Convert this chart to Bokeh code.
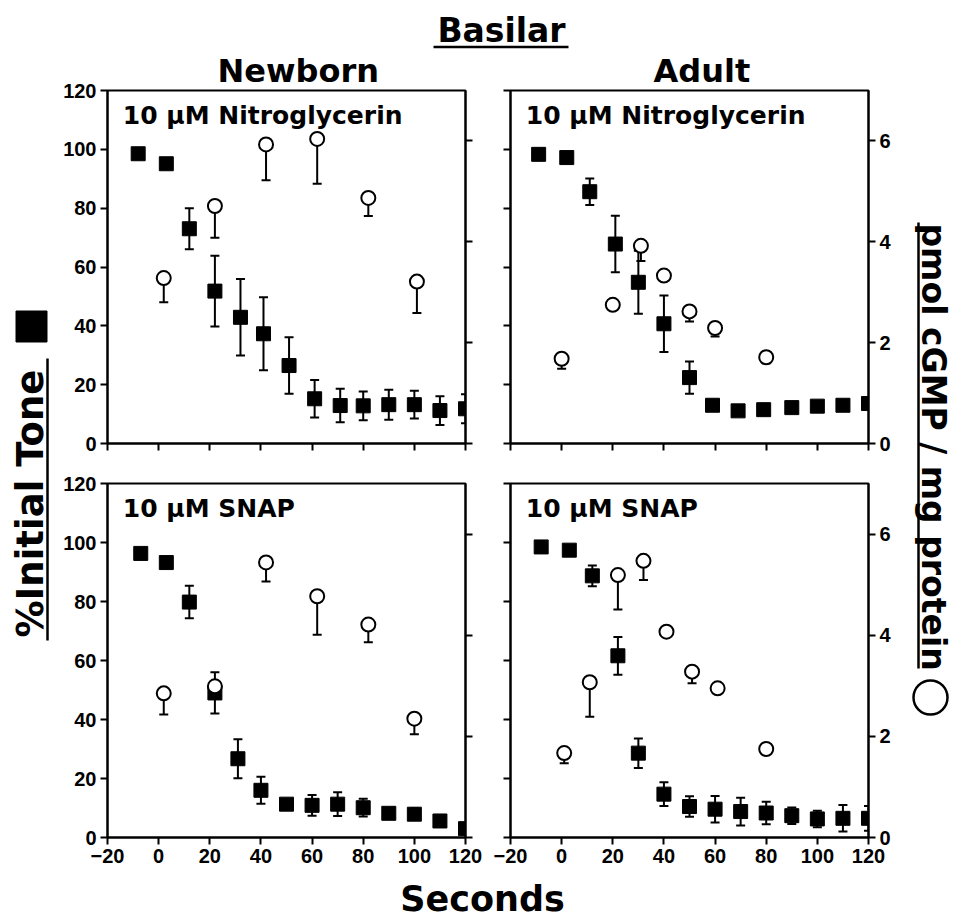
import math
from bokeh.plotting import figure
from bokeh.models import Range1d, LinearAxis, FixedTicker, ColumnDataSource, Whisker, TeeHead
from bokeh.layouts import row, column
from bokeh.embed import file_html
from bokeh.resources import INLINE
from bokeh.core.properties import value

# ---------------- data ----------------
x_ticks = [-20, 0, 20, 40, 60, 80, 100, 120]
tone_ticks = [0, 20, 40, 60, 80, 100, 120]
cgmp_ticks = [0, 2, 4, 6]

# Newborn, 10 uM Nitroglycerin
nb_ntg_t = [-8, 3, 12, 22, 32, 41, 51, 61, 71, 80, 90, 100, 110, 120]
nb_ntg_tone = [98.5, 95.1, 73.0, 51.8, 42.9, 37.3, 26.5, 15.2, 12.9, 12.8, 13.2, 13.2, 11.2, 11.8]
nb_ntg_tone_err = [0, 0, 7.0, 12.0, 13.0, 12.4, 9.6, 6.4, 5.7, 4.9, 5.1, 4.7, 4.9, 4.9]
nb_ntg_ct = [2, 22, 42, 62, 82, 101]
nb_ntg_cgmp = [3.28, 4.71, 5.93, 6.04, 4.87, 3.21]
nb_ntg_cgmp_err = [0.48, 0.63, 0.71, 0.89, 0.36, 0.62]

# Adult, 10 uM Nitroglycerin
ad_ntg_t = [-9, 2, 11, 21, 30, 40, 50, 59, 69, 79, 90, 100, 110, 120]
ad_ntg_tone = [98.3, 97.2, 85.6, 67.8, 54.8, 40.7, 22.4, 13.0, 11.1, 11.5, 12.2, 12.7, 13.0, 13.6]
ad_ntg_tone_err = [0, 0, 4.5, 9.6, 10.7, 9.6, 5.5, 1, 1, 0, 0, 0, 0, 1]
ad_ntg_ct = [0, 20, 31, 40, 50, 60, 80]
ad_ntg_cgmp = [1.68, 2.75, 3.92, 3.33, 2.62, 2.29, 1.71]
ad_ntg_cgmp_err = [0.2, 0, 0.3, 0, 0.2, 0.17, 0.12]

# Newborn, 10 uM SNAP
nb_snap_t = [-7, 3, 12, 22, 31, 40, 50, 60, 70, 80, 90, 100, 110, 120]
nb_snap_tone = [96.3, 93.2, 79.8, 49.0, 26.7, 16.0, 11.3, 10.9, 11.3, 10.1, 8.2, 7.9, 5.6, 3.0]
nb_snap_tone_err = [0, 0, 5.5, 7.0, 6.6, 4.6, 1, 3.5, 4.0, 3.0, 1, 2, 0, 0]
nb_snap_ct = [2, 22, 42, 62, 82, 100]
nb_snap_cgmp = [2.85, 2.99, 5.44, 4.77, 4.21, 2.35]
nb_snap_cgmp_err = [0.42, 0.15, 0.38, 0.76, 0.35, 0.31]

# Adult, 10 uM SNAP
ad_snap_t = [-8, 3, 12, 22, 30, 40, 50, 60, 70, 80, 90, 100, 110, 120]
ad_snap_tone = [98.5, 97.4, 88.7, 61.6, 28.6, 14.7, 10.5, 9.6, 8.8, 8.3, 7.4, 6.3, 6.5, 6.5]
ad_snap_tone_err = [0, 0, 3.5, 6.4, 5.0, 4.0, 3.5, 4.5, 4.7, 3.8, 2.8, 2.8, 4.5, 4.2]
ad_snap_ct = [1, 11, 22, 32, 41, 51, 61, 80]
ad_snap_cgmp = [1.67, 3.07, 5.19, 5.47, 4.07, 3.28, 2.95, 1.75]
ad_snap_cgmp_err = [0.2, 0.68, 0.68, 0.38, 0, 0.23, 0, 0]

title_text = "Basilar"
col_titles = ["Newborn", "Adult"]
panel_labels = ["10 \u03bcM Nitroglycerin", "10 \u03bcM SNAP"]
x_title = "Seconds"
left_title = "%Initial Tone"
right_title = "pmol cGMP / mg protein"

FONT = "DejaVu Sans"
TICK_FONT = "Liberation Sans"


def style_axis(ax, ticks, show_labels):
    ax.ticker = FixedTicker(ticks=ticks)
    ax.axis_line_width = 2
    ax.axis_line_color = "black"
    ax.major_tick_line_width = 2
    ax.major_tick_line_color = "black"
    ax.major_tick_out = 7
    ax.major_tick_in = 0
    ax.minor_tick_line_color = None
    ax.major_label_text_font = TICK_FONT
    ax.major_label_text_font_style = "bold"
    ax.major_label_text_color = "black"
    ax.major_label_standoff = 4
    if show_labels:
        ax.major_label_text_font_size = "20px"
    else:
        ax.major_label_text_font_size = "0px"
        ax.major_label_overrides = {t: "" for t in ticks}


def panel(t, tone, tone_err, ct, cg, cg_err, label, left_lab, right_lab, bottom_lab,
          bl, br, bt, bb, head=None, head_offset=0):
    w = bl + 358 + br
    h = bt + 354 + bb
    p = figure(width=w, height=h, x_range=Range1d(-20, 120), y_range=Range1d(0, 120),
               output_backend="svg", toolbar_location=None,
               min_border_left=bl, min_border_right=br, min_border_top=bt, min_border_bottom=bb)
    p.extra_y_ranges = {"cgmp": Range1d(0, 7)}
    p.grid.visible = False
    p.outline_line_color = "black"
    p.outline_line_width = 2
    p.background_fill_color = "white"
    p.border_fill_color = "white"

    if head:
        p.title.text = head
        p.title.align = "left"
        p.title.offset = head_offset
        p.title.standoff = 1
        p.title.text_font = FONT
        p.title.text_font_style = "bold"
        p.title.text_font_size = "32px"
        p.title.text_color = "black"

    style_axis(p.xaxis[0], x_ticks, bottom_lab)
    style_axis(p.yaxis[0], tone_ticks, left_lab)
    rax = LinearAxis(y_range_name="cgmp")
    style_axis(rax, cgmp_ticks, right_lab)
    p.add_layout(rax, "right")

    lo = [a - b for a, b in zip(tone, tone_err)]
    hi = [a + b for a, b in zip(tone, tone_err)]
    sq = ColumnDataSource(dict(t=t, v=tone, lo=lo, hi=hi))
    p.add_layout(Whisker(source=sq, base="t", lower="lo", upper="hi", line_width=2,
                         upper_head=TeeHead(size=9, line_width=2),
                         lower_head=TeeHead(size=9, line_width=2)))
    p.scatter("t", "v", source=sq, marker="square", size=14, color="black")

    clo = [a - b for a, b in zip(cg, cg_err)]
    cs = ColumnDataSource(dict(t=ct, v=cg, lo=clo))
    p.add_layout(Whisker(source=cs, base="t", lower="lo", upper="v", line_width=2,
                         y_range_name="cgmp", upper_head=None,
                         lower_head=TeeHead(size=9, line_width=2)))
    p.scatter("t", "v", source=cs, y_range_name="cgmp", marker="circle", size=14,
              fill_color="white", line_color="black", line_width=2)

    p.text(x=[-14], y=[111.5], text=[label], text_font=value(FONT), text_font_style="bold",
           text_font_size="25px", text_align="left", text_baseline="middle", color="black")
    return p


def strip(w, h):
    f = figure(width=w, height=h, x_range=Range1d(0, w), y_range=Range1d(0, h),
               output_backend="svg", toolbar_location=None,
               x_axis_location=None, y_axis_location=None,
               min_border_left=0, min_border_right=0, min_border_top=0, min_border_bottom=0)
    f.grid.visible = False
    f.outline_line_color = None
    f.background_fill_color = "white"
    f.border_fill_color = "white"
    return f


# columns: left strip 58 | col1 49+358+23 | col2 22+358+25 | right strip 60  -> 953
# rows:    top strip 49  | row1 40+354+23 | row2 17+354+36 | bottom strip 46 -> 919
tl = panel(nb_ntg_t, nb_ntg_tone, nb_ntg_tone_err, nb_ntg_ct, nb_ntg_cgmp, nb_ntg_cgmp_err,
           panel_labels[0], True, False, False, 49, 23, 40, 23,
           head=col_titles[0], head_offset=110)
tr = panel(ad_ntg_t, ad_ntg_tone, ad_ntg_tone_err, ad_ntg_ct, ad_ntg_cgmp, ad_ntg_cgmp_err,
           panel_labels[0], False, True, False, 22, 25, 40, 23,
           head=col_titles[1], head_offset=143)
bl_ = panel(nb_snap_t, nb_snap_tone, nb_snap_tone_err, nb_snap_ct, nb_snap_cgmp, nb_snap_cgmp_err,
            panel_labels[1], True, False, True, 49, 23, 17, 36)
br_ = panel(ad_snap_t, ad_snap_tone, ad_snap_tone_err, ad_snap_ct, ad_snap_cgmp, ad_snap_cgmp_err,
            panel_labels[1], False, True, True, 22, 25, 17, 36)

# top strip: y 0..49
top = strip(953, 49)
top.text(x=[501], y=[19.5], text=[title_text], text_font=value(FONT), text_font_style="bold",
         text_font_size="33px", text_align="center", text_baseline="middle", color="black")
top.segment(x0=[433], y0=[2.5], x1=[568], y1=[2.5], line_width=2.5, color="black")

# left strip: x 0..58, y 49..873
left = strip(58, 824)
left.text(x=[30], y=[236], text=[left_title], angle=math.pi / 2, text_font=value(FONT),
          text_font_style="bold", text_font_size="37px", text_align="left",
          text_baseline="middle", color="black")
left.segment(x0=[47], y0=[233], x1=[47], y1=[515], line_width=2.5, color="black")
left.scatter(x=[31], y=[547], marker="square", size=31, color="black")

# right strip: x 893..953
right = strip(60, 824)
right.text(x=[40], y=[650], text=[right_title], angle=-math.pi / 2, text_font=value(FONT),
           text_font_style="bold", text_font_size="33px", text_align="left",
           text_baseline="middle", color="black")
right.segment(x0=[25], y0=[651], x1=[25], y1=[205], line_width=2.5, color="black")
right.scatter(x=[37], y=[176], marker="circle", size=34, fill_color="white",
              line_color="black", line_width=2.5)

# bottom strip: y 873..919
bottom = strip(953, 46)
bottom.text(x=[482], y=[21], text=[x_title], text_font=value(FONT), text_font_style="bold",
            text_font_size="35px", text_align="center", text_baseline="middle", color="black")

grid = column(row(tl, tr, spacing=0), row(bl_, br_, spacing=0), spacing=0)
layout = column(top, row(left, grid, right, spacing=0), bottom, spacing=0)

open("out.html", "w").write(file_html(layout, INLINE))
